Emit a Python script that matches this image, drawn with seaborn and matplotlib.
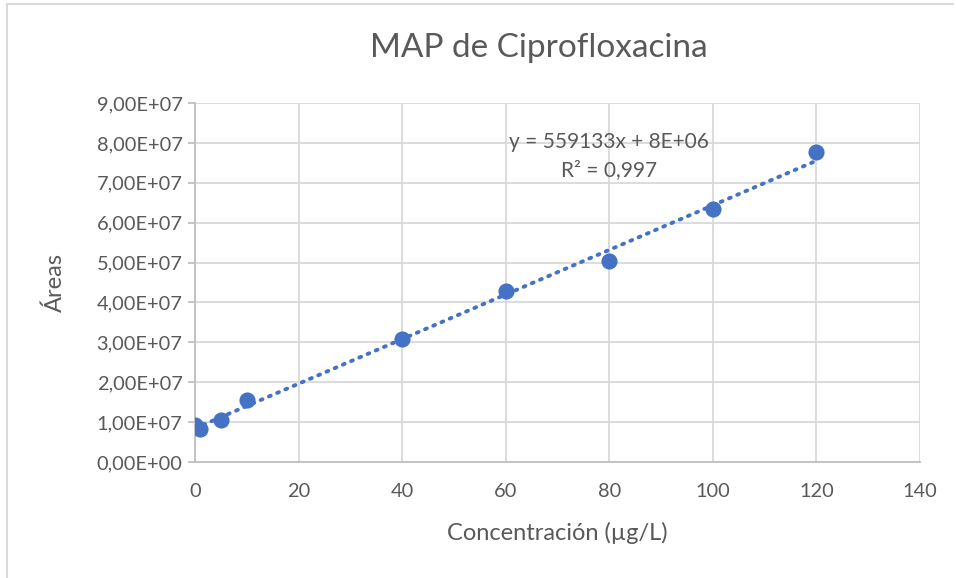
import numpy as np
import pandas as pd
import matplotlib
matplotlib.use("Agg")
import matplotlib.pyplot as plt
import seaborn as sns
from matplotlib.lines import Line2D
from matplotlib.ticker import FuncFormatter, MultipleLocator

# Calibration data: concentration (µg/L) vs peak area
concentracion = [0, 1, 5, 10, 40, 60, 80, 100, 120]
areas = [9.3e6, 8.2e6, 1.05e7, 1.55e7, 3.08e7, 4.28e7, 5.04e7, 6.34e7, 7.77e7]

title = "MAP de Ciprofloxacina"
xlabel = "Concentración (µg/L)"
ylabel = "Áreas"
eq_label = "y = 559133x + 8E+06"
r2_label = "R² = 0,997"

blue = "#4472C4"
grid_c = "#D9D9D9"
text_c = "#595959"

sns.set_theme(style="white")
plt.rcParams["font.family"] = ["Lato", "DejaVu Sans"]

df = pd.DataFrame({"x": concentracion, "y": areas})

fig = plt.figure(figsize=(9.56, 5.78), dpi=100)
ax = fig.add_axes([195 / 956, 1 - 462 / 578, (920 - 195) / 956, (462 - 103) / 578])

# Linear trendline
slope, intercept = np.polyfit(df["x"], df["y"], 1)
xs = np.array([min(concentracion), max(concentracion)])
ax.plot(xs, slope * xs + intercept, color=blue, lw=2.8, ls=(0, (0.5, 1.8)),
        dash_capstyle="round", zorder=2)

sns.scatterplot(data=df, x="x", y="y", ax=ax, color=blue, s=135,
                edgecolor=blue, linewidth=0, zorder=3, legend=False)

ax.set_xlim(0, 140)
ax.set_ylim(0, 9e7)
ax.xaxis.set_major_locator(MultipleLocator(20))
ax.yaxis.set_major_locator(MultipleLocator(1e7))


def sci_comma(v, pos):
    if v == 0:
        return "0,00E+00"
    exp = int(np.floor(np.log10(abs(v))))
    mant = v / 10 ** exp
    return f"{mant:.2f}".replace(".", ",") + f"E+{exp:02d}"


ax.yaxis.set_major_formatter(FuncFormatter(sci_comma))
ax.grid(True, color=grid_c, lw=1.3)
ax.set_axisbelow(True)
for side in ("top", "right"):
    ax.spines[side].set_visible(False)
for side in ("left", "bottom"):
    ax.spines[side].set_color("#BFBFBF")
    ax.spines[side].set_linewidth(1.3)

ax.tick_params(axis="y", which="major", length=5, width=1.3, color="#BFBFBF",
               labelsize=14.4, labelcolor=text_c, pad=4, left=True)
ax.tick_params(axis="x", which="major", length=0, labelsize=14.4,
               labelcolor=text_c, pad=15)

ax.set_xlabel(xlabel, fontsize=17, color=text_c, labelpad=16)
ax.set_ylabel(ylabel, fontsize=17, color=text_c, labelpad=22)

fig.text(539 / 956, 1 - 48 / 578, title, fontsize=24, color=text_c,
         ha="center", va="center")

fig.text(609 / 956, 1 - 142 / 578, eq_label, fontsize=15, color=text_c,
         ha="center", va="center")
fig.text(609 / 956, 1 - 170 / 578, r2_label, fontsize=15, color=text_c,
         ha="center", va="center")

# chart frame edges
fig.add_artist(Line2D([7 / 956, 7 / 956], [0, 1 - 4 / 578], transform=fig.transFigure,
                      color="#D9D9D9", lw=1.5))
fig.add_artist(Line2D([7 / 956, 953 / 956], [1 - 4 / 578, 1 - 4 / 578],
                      transform=fig.transFigure, color="#D9D9D9", lw=1.5))

fig.savefig("out.png", dpi=100, facecolor="white")
